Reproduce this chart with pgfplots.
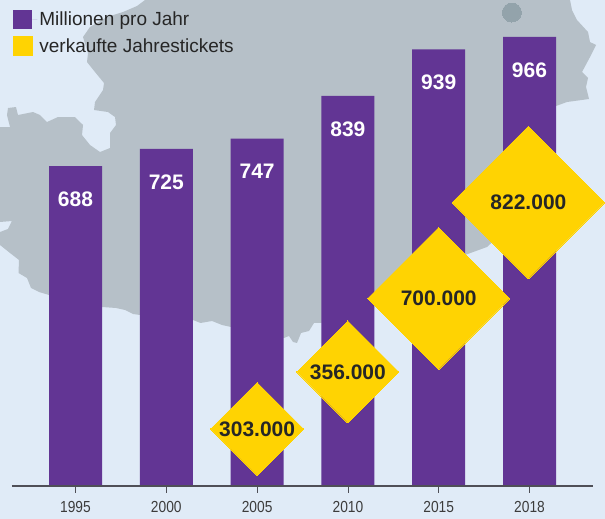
\documentclass[border=0pt]{standalone}
\usepackage{fontspec}
\setmainfont{Liberation Sans}
\newfontfamily\tickfont[FakeStretch=0.86]{Liberation Sans}
\usepackage{pgfplots}
\usepackage{pgfplotstable}
\pgfplotsset{compat=1.18}
\definecolor{bgblue}{HTML}{E0EBF7}
\definecolor{mapgrey}{HTML}{B6C0C8}
\definecolor{dotgrey}{HTML}{93A3AB}
\definecolor{barpurple}{HTML}{623594}
\definecolor{tickyellow}{HTML}{FFD302}
\definecolor{inkdark}{HTML}{262626}
\definecolor{axisgrey}{HTML}{4F4F57}

% outline of the map, in picture pixels
\pgfplotstableread{
px py
145 0
137 6
123 12
107 17
90 27
83 37
88 53
87 62
95 72
104 83
103 90
95 102
94 110
108 112
115 117
116 125
110 133
110 148
100 152
90 145
82 135
83 125
75 117
58 117
47 122
40 115
33 112
18 115
16 107
8 108
7 115
10 127
0 127
0 222
12 221
8 229
0 232
0 245
10 253
19 260
18.5 273
27 278
31 288
39 292
49 295
102 307
116 308
125 310
133 314
140 315
193 320
200.6 323
212 321
222 325
231 327
284 338
289 336
293 342
297 343
301 333
309 331
314 323
321 323
374 292
420 290
465 255
487 247
500 235
515 225
556 106
567 102
589 99
586 87
588 78
582 72
590 57
596 45
590 42
588 32
577 20
572 10
570 0
}\maptable

\pgfplotstableread{
x value
0 688
1 725
2 747
3 839
4 939
5 966
}\barstable

\pgfplotsset{
    square legend/.style={legend image code/.code={
        \fill[#1] (0pt,-9.5pt) rectangle (19pt,9.5pt);
        \path[draw=none] (19pt,0pt) -- (24pt,0pt);}},
    ticket/.style 2 args={only marks, mark=diamond*, mark size=#1pt,
        mark options={xscale=1.3333, draw=tickyellow, line width=0pt, fill=tickyellow},
        nodes near coords={#2},
        nodes near coords style={anchor=center, text=inkdark,
            font=\bfseries\fontsize{21}{22}\selectfont}},
}

\begin{document}
\begin{tikzpicture}
\begin{axis}[
    scale only axis,
    width=605pt, height=519pt,
    xmin=-0.8315, xmax=5.8315,
    ymin=-71, ymax=1045.2,
    axis background/.style={fill=bgblue},
    axis x line=middle,
    axis y line=none,
    axis line style={draw=none},
    xtick={0,1,2,3,4,5},
    xticklabels={1995,2000,2005,2010,2015,2018},
    ytick=\empty,
    tick align=outside,
    major tick length=7pt,
    x tick style={draw=axisgrey, line width=0.8pt},
    x tick label style={font=\tickfont\fontsize{16}{18}\selectfont, text=inkdark!90, yshift=-5pt},
    /pgf/number format/assume math mode=true,
    legend style={at={(13pt,509pt)}, anchor=north west, draw=none, fill=none,
        inner sep=0pt, row sep=7pt,
        font=\fontsize{19}{20}\selectfont, text=inkdark},
    legend cell align=left,
]
\addplot[forget plot, fill=mapgrey, draw=none]
    table[x expr=(\thisrow{px}-75.5)/90.8, y expr=(486-\thisrow{py})/0.465] {\maptable};
\addplot[forget plot, only marks, mark=*, mark size=9.5pt, mark options={fill=dotgrey, draw=dotgrey, line width=0pt}]
    coordinates {(4.8062,1018.3)};

\addplot[ybar, bar width=53pt, fill=barpurple, draw=none, square legend=barpurple,
    nodes near coords,
    nodes near coords style={anchor=center, yshift=-33pt, text=white,
        font=\bfseries\fontsize{21}{22}\selectfont},
    ] table[x=x, y=value] {\barstable};
\addlegendentry{Millionen pro Jahr}

% baseline over the bars
\addplot[forget plot, draw=axisgrey, line width=2pt] coordinates {(-0.70,0) (5.70,0)};

% diamonds: y is the height of the centre, mark size the half height in px
\addplot[ticket={46.5}{303.000}, square legend=tickyellow] coordinates {(2,122.6)};
\addlegendentry{verkaufte Jahrestickets}
\addplot[forget plot, ticket={51}{356.000}] coordinates {(3,245.2)};
\addplot[forget plot, ticket={71}{700.000}] coordinates {(4,403.2)};
\addplot[forget plot, ticket={76.3}{822.000}] coordinates {(4.988,609.7)};
\end{axis}
\end{tikzpicture}
\end{document}
